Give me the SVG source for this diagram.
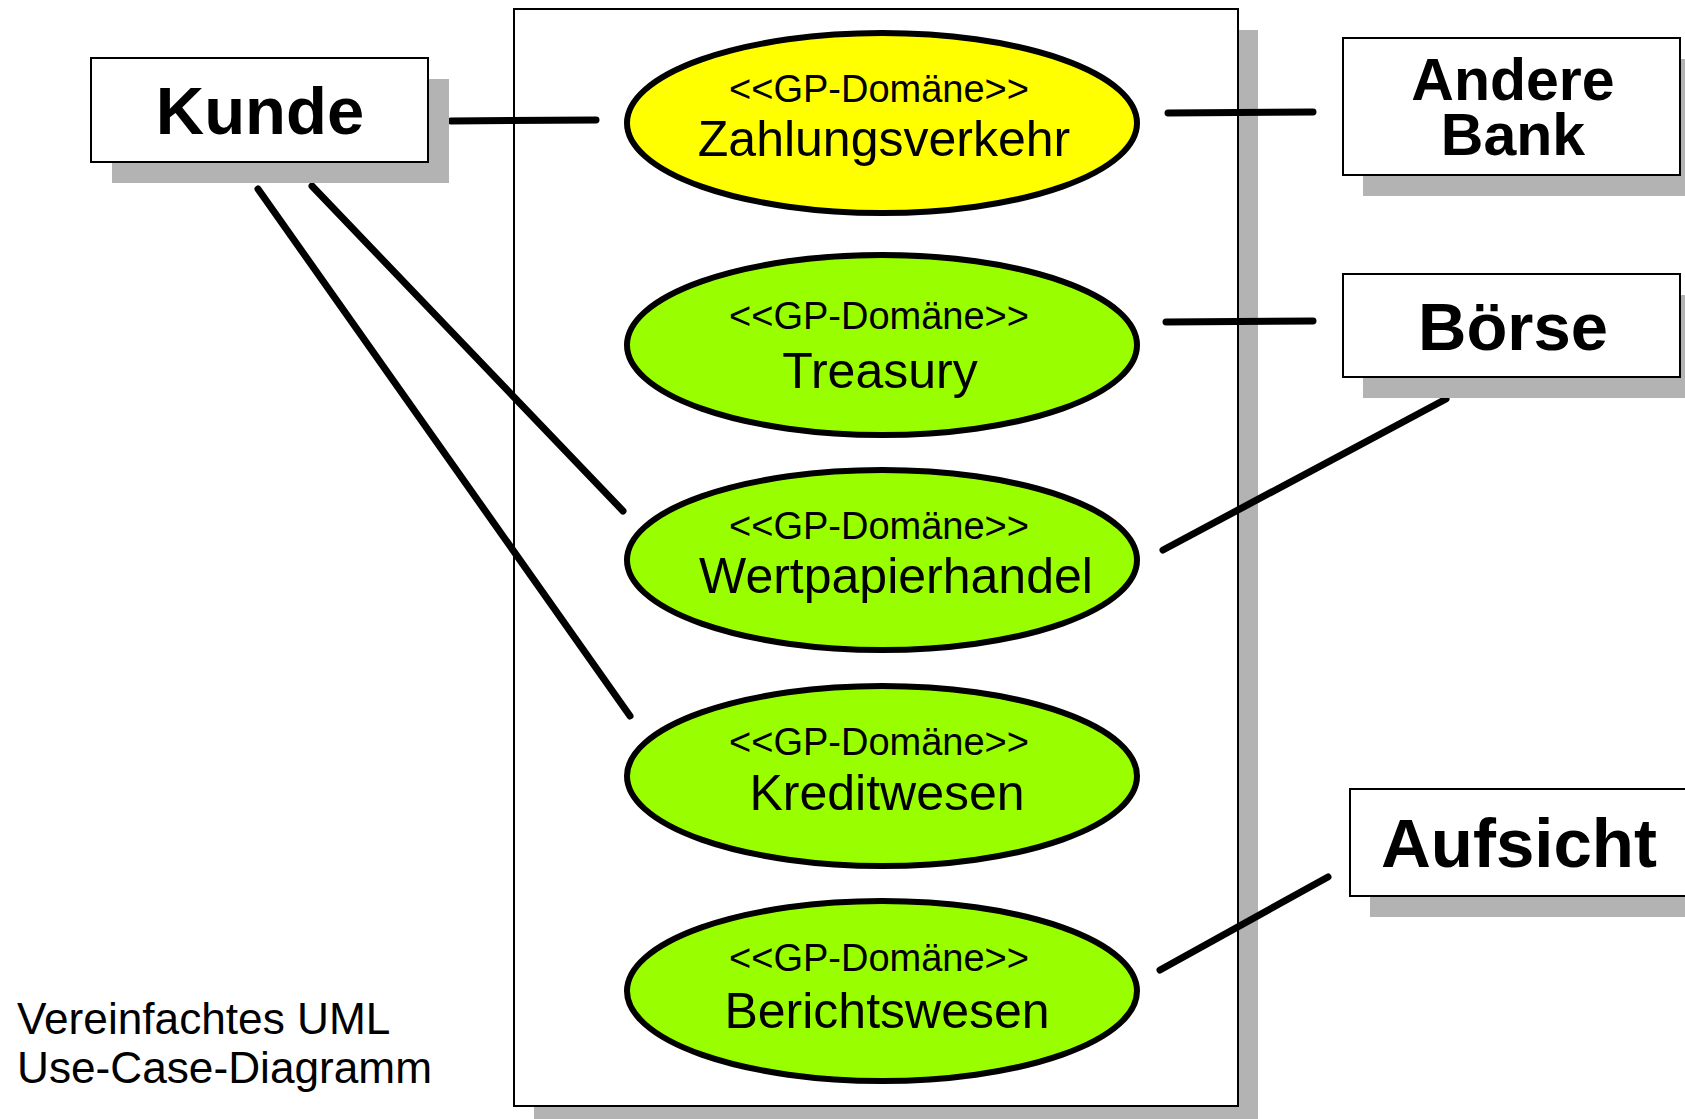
<svg xmlns="http://www.w3.org/2000/svg" width="1685" height="1119" viewBox="0 0 1685 1119">
  <style>
    .shadow { fill: #b3b3b3; stroke: none; }
    .actor { fill: #ffffff; stroke: #000000; stroke-width: 2; }
    .actor-label { font-family: "Liberation Sans", Arial, sans-serif; font-weight: bold; fill: #000000; text-anchor: middle; }
    .usecase { stroke: #000000; stroke-width: 6; }
    .uc-green { fill: #99ff00; }
    .uc-yellow { fill: #ffff00; }
    .stereo { font-family: "Liberation Sans", Arial, sans-serif; font-size: 38px; fill: #000000; text-anchor: middle; }
    .uc-name { font-family: "Liberation Sans", Arial, sans-serif; font-size: 50px; fill: #000000; text-anchor: middle; }
    .assoc { stroke: #000000; stroke-width: 7; stroke-linecap: round; fill: none; }
    .note { font-family: "Liberation Sans", Arial, sans-serif; font-size: 44.2px; fill: #000000; }
  </style>

  <rect width="1685" height="1119" fill="#ffffff"/>

  <!-- system boundary -->
  <g id="system">
    <rect class="shadow" x="534" y="30" width="724" height="1089"/>
    <rect x="514" y="9" width="724" height="1097" fill="#ffffff" stroke="#000000" stroke-width="2"/>
  </g>

  <!-- associations -->
  <g id="connectors">
    <line class="assoc" x1="451" y1="121" x2="596" y2="120"/>
    <line class="assoc" x1="312" y1="186" x2="623" y2="511"/>
    <line class="assoc" x1="258" y1="189" x2="630" y2="716"/>
    <line class="assoc" x1="1168" y1="113" x2="1313" y2="112"/>
    <line class="assoc" x1="1166" y1="322" x2="1313" y2="321"/>
    <line class="assoc" x1="1163" y1="550" x2="1446" y2="399"/>
    <line class="assoc" x1="1160" y1="970" x2="1328" y2="877"/>
  </g>

  <!-- actors -->
  <g id="kunde">
    <rect class="shadow" x="112" y="79" width="337" height="104"/>
    <rect class="actor" x="91" y="58" width="337" height="104"/>
    <text class="actor-label" x="260" y="134" font-size="67">Kunde</text>
  </g>

  <g id="andere-bank">
    <rect class="shadow" x="1363" y="59" width="337" height="137"/>
    <rect class="actor" x="1343" y="38" width="337" height="137"/>
    <text class="actor-label" x="1513" y="100" font-size="59">Andere</text>
    <text class="actor-label" x="1513" y="155" font-size="59">Bank</text>
  </g>

  <g id="boerse">
    <rect class="shadow" x="1363" y="295" width="337" height="103"/>
    <rect class="actor" x="1343" y="274" width="337" height="103"/>
    <text class="actor-label" x="1513" y="350" font-size="67">Börse</text>
  </g>

  <g id="aufsicht">
    <rect class="shadow" x="1370" y="810" width="337" height="107"/>
    <rect class="actor" x="1350" y="789" width="337" height="107"/>
    <text class="actor-label" x="1519" y="867" font-size="69">Aufsicht</text>
  </g>

  <!-- use cases -->
  <g id="zahlungsverkehr">
    <ellipse class="usecase uc-yellow" cx="882" cy="123" rx="255" ry="90"/>
    <text class="stereo" x="879" y="102">&lt;&lt;GP-Domäne&gt;&gt;</text>
    <text class="uc-name" x="884" y="156">Zahlungsverkehr</text>
  </g>

  <g id="treasury">
    <ellipse class="usecase uc-green" cx="882" cy="345" rx="255" ry="90"/>
    <text class="stereo" x="879" y="329">&lt;&lt;GP-Domäne&gt;&gt;</text>
    <text class="uc-name" x="880" y="388">Treasury</text>
  </g>

  <g id="wertpapierhandel">
    <ellipse class="usecase uc-green" cx="882" cy="560" rx="255" ry="90"/>
    <text class="stereo" x="879" y="539">&lt;&lt;GP-Domäne&gt;&gt;</text>
    <text class="uc-name" x="896" y="593">Wertpapierhandel</text>
  </g>

  <g id="kreditwesen">
    <ellipse class="usecase uc-green" cx="882" cy="776" rx="255" ry="90"/>
    <text class="stereo" x="879" y="755">&lt;&lt;GP-Domäne&gt;&gt;</text>
    <text class="uc-name" x="887" y="810">Kreditwesen</text>
  </g>

  <g id="berichtswesen">
    <ellipse class="usecase uc-green" cx="882" cy="991" rx="255" ry="90"/>
    <text class="stereo" x="879" y="971">&lt;&lt;GP-Domäne&gt;&gt;</text>
    <text class="uc-name" x="887" y="1028">Berichtswesen</text>
  </g>

  <!-- caption -->
  <g id="caption">
    <text class="note" x="17" y="1034">Vereinfachtes UML</text>
    <text class="note" x="17" y="1083">Use-Case-Diagramm</text>
  </g>
</svg>
